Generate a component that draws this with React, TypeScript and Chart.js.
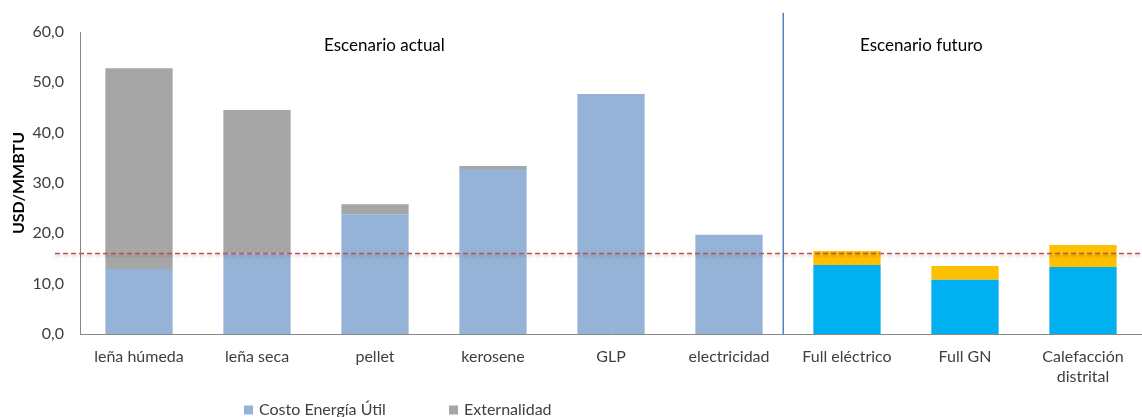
import React, { useEffect, useRef } from "react";
import { Chart, registerables } from "chart.js";

Chart.register(...registerables);

const categories: (string | string[])[] = [
  "leña húmeda",
  "leña seca",
  "pellet",
  "kerosene",
  "GLP",
  "electricidad",
  "Full eléctrico",
  "Full GN",
  ["Calefacción", "distrital"],
];
const costoActual: (number | null)[] = [12.9, 16.0, 23.8, 32.8, 47.7, 19.7, null, null, null];
const externalidadActual: (number | null)[] = [39.9, 28.5, 2.0, 0.6, 0, 0, null, null, null];
const costoFuturo: (number | null)[] = [null, null, null, null, null, null, 13.7, 10.8, 13.3];
const externalidadFuturo: (number | null)[] = [null, null, null, null, null, null, 2.8, 2.7, 4.4];
const referenceLevel = 16.0;
const yTicks = { min: 0, max: 60, step: 10 };
const sceneLabels = ["Escenario actual", "Escenario futuro"];
const legendLabels = ["Costo Energía Útil", "Externalidad"];

const FONT = "Lato, 'Open Sans', sans-serif";

const overlayPlugin = {
  id: "overlay",
  afterDatasetsDraw(chart: any) {
    const { ctx, chartArea, scales } = chart;
    const x = scales.x;
    const y = scales.y;
    ctx.save();
    const yRef = y.getPixelForValue(referenceLevel);
    ctx.shadowColor = "rgba(0,0,0,0.25)";
    ctx.shadowBlur = 3;
    ctx.shadowOffsetY = 2;
    ctx.strokeStyle = "#C0504D";
    ctx.lineWidth = 1.5;
    ctx.setLineDash([5, 3]);
    ctx.beginPath();
    ctx.moveTo(chartArea.left - 25, yRef);
    ctx.lineTo(chartArea.right, yRef);
    ctx.stroke();
    ctx.restore();

    ctx.save();
    const xs = x.getPixelForValue(5.46);
    ctx.strokeStyle = "#4F81BD";
    ctx.lineWidth = 1.5;
    ctx.beginPath();
    ctx.moveTo(xs, y.getPixelForValue(63.8));
    ctx.lineTo(xs, chartArea.bottom);
    ctx.stroke();

    ctx.fillStyle = "#000000";
    ctx.font = `17px ${FONT}`;
    ctx.textAlign = "center";
    ctx.textBaseline = "middle";
    ctx.fillText(sceneLabels[0], x.getPixelForValue(2.08), y.getPixelForValue(57.4));
    ctx.fillText(sceneLabels[1], x.getPixelForValue(6.63), y.getPixelForValue(57.4));
    ctx.restore();
  },
  afterDraw(chart: any) {
    const { ctx, chartArea } = chart;
    const colors = ["#95B3D7", "#A6A6A6"];
    ctx.save();
    ctx.font = `16px ${FONT}`;
    ctx.textBaseline = "middle";
    ctx.textAlign = "left";
    const cy = chartArea.bottom + 76;
    let cx = chartArea.left + 164;
    legendLabels.forEach((label, i) => {
      ctx.fillStyle = colors[i];
      ctx.fillRect(cx, cy - 4.5, 9, 9);
      ctx.fillStyle = "#404040";
      ctx.fillText(label, cx + 15, cy);
      cx += 205;
    });
    ctx.restore();
  },
};

export default function App() {
  const ref = useRef<HTMLCanvasElement | null>(null);
  useEffect(() => {
    if (!ref.current) return;
    const chart = new Chart(ref.current, {
      type: "bar",
      data: {
        labels: categories,
        datasets: [
          { label: legendLabels[0], data: costoActual, backgroundColor: "#95B3D7", stack: "s" },
          { label: legendLabels[1], data: externalidadActual, backgroundColor: "#A6A6A6", stack: "s" },
          { label: "Costo futuro", data: costoFuturo, backgroundColor: "#00B0F0", stack: "s" },
          { label: "Externalidad futura", data: externalidadFuturo, backgroundColor: "#FFC000", stack: "s" },
        ],
      },
      options: {
        animation: false,
        responsive: true,
        maintainAspectRatio: false,
        layout: { padding: { top: 32, bottom: 30, left: 0, right: 0 } },
        datasets: { bar: { categoryPercentage: 1, barPercentage: 0.57 } } as any,
        plugins: {
          legend: { display: false },
          tooltip: { enabled: false },
        },
        scales: {
          x: {
            stacked: true,
            grid: { display: false, drawTicks: false },
            border: { display: true, color: "#868686", width: 1 },
            ticks: {
              color: "#404040",
              font: { family: FONT, size: 16, lineHeight: 1.25 },
              padding: 13,
              maxRotation: 0,
              autoSkip: false,
            },
            afterFit: (s: any) => {
              s.height = 53;
            },
          },
          y: {
            stacked: true,
            min: yTicks.min,
            max: yTicks.max,
            grid: { display: false, drawTicks: false },
            border: { display: true, color: "#868686", width: 1 },
            ticks: {
              stepSize: yTicks.step,
              color: "#404040",
              font: { family: FONT, size: 16 },
              padding: 16,
              callback: (v: any) => Number(v).toFixed(1).replace(".", ","),
            },
            title: {
              display: true,
              text: "USD/MMBTU",
              color: "#000000",
              font: { family: FONT, size: 16, weight: "bold" },
              padding: { top: 9, bottom: 0 },
            },
            afterFit: (s: any) => {
              s.width = 80;
            },
          },
        },
      },
      plugins: [overlayPlugin],
    });
    return () => chart.destroy();
  }, []);
  return (
    <div style={{ position: "fixed", left: 0, top: 0, width: 1142, height: 417, background: "#fff" }}>
      <canvas ref={ref} />
    </div>
  );
}
